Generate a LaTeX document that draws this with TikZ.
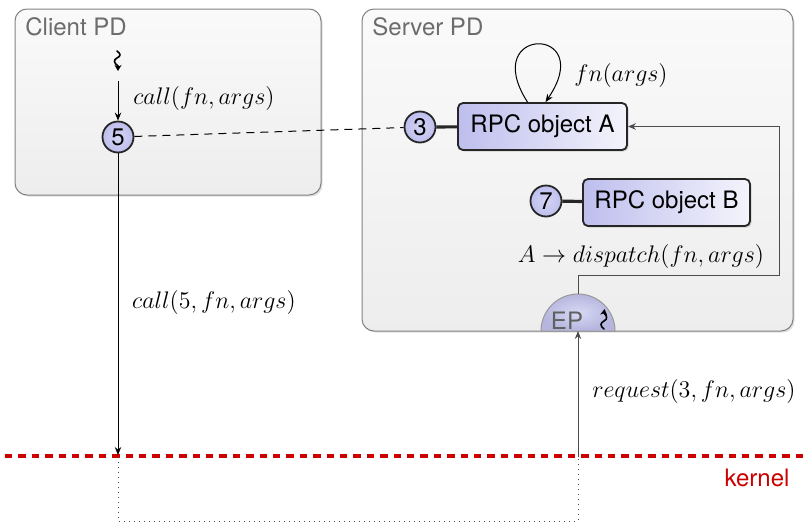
\documentclass[tikz,border=0pt]{standalone}
\usepackage{fontspec}
\setsansfont{TeX Gyre Heros}
\usetikzlibrary{arrows.meta,shadows,shadings,calc}
\definecolor{lav}{RGB}{190,190,238}
\definecolor{lavlight}{RGB}{244,244,252}
\definecolor{pdborder}{RGB}{130,130,130}
\definecolor{kred}{RGB}{204,0,0}
\begin{document}
\begin{tikzpicture}[x=0.5pt,y=-0.5pt,
  pd/.style={draw=pdborder, line width=0.5pt, rounded corners=6pt, top color=gray!4, bottom color=gray!14,
    drop shadow={opacity=0.25, shadow xshift=0.8pt, shadow yshift=-0.8pt}},
  pdlabel/.style={anchor=west, inner sep=0pt, text=gray!85!black, font=\sffamily\fontsize{12}{14}\selectfont},
  circ/.style={circle, draw=black!85, line width=0.9pt, inner sep=0pt, minimum size=15.5pt,
    inner color=lav!65, outer color=lav, font=\sffamily\fontsize{12}{14}\selectfont},
  objbox/.style={draw=black!85, line width=0.9pt, rounded corners=2.5pt, left color=lav, right color=lavlight,
    minimum height=23.5pt, font=\sffamily\fontsize{12}{14}\selectfont,
    drop shadow={opacity=0.3, shadow xshift=0.8pt, shadow yshift=-0.8pt}},
  mlabel/.style={font=\fontsize{12.8}{15}\selectfont, inner sep=0pt},
  arr/.style={line width=0.5pt, -{Stealth[length=4pt,width=3.2pt]}},
  squig/.style={line width=0.8pt, line cap=round},
  kline/.style={draw=kred, line width=1.8pt, dash pattern=on 3.7pt off 3pt},
  bond/.style={line width=1.6pt, draw=black!85}
]
\useasboundingbox (0,0) rectangle (803,525);

% protection domains
\path[pd] (15,9) rectangle (321,195);
\path[pd] (362,9) rectangle (793,331);
\node[pdlabel] (clientlbl) at (25,27) {Client PD};
\node[pdlabel] (serverlbl) at (372,27) {Server PD};

% EP semicircle
\coordinate (ep) at (578,331);
\path[draw=gray!80, line width=0.5pt, inner color=lav!60, outer color=lav!85!gray]
  (541,331) arc[start angle=180, end angle=360, x radius=37, y radius=37] -- cycle;
\node[font=\sffamily\fontsize{12}{14}\selectfont, text=gray!75!black] (eplbl) at (567,321) {EP};
\coordinate (eptop) at (578,294);
\draw[squig, -{Stealth[length=3pt,width=3.5pt]}] (604,329) .. controls (600,326) and (600,323) .. (604,321)
  .. controls (608,319) and (607,316) .. (604,313) -- (604.5,309);

% client thread
\draw[squig, -{Stealth[length=3pt,width=3.5pt]}] (117,51) .. controls (121,54) and (121,56) .. (117,58)
  .. controls (113,60) and (114,63) .. (118,66) -- (118,71);
\coordinate (thrS) at (118,81);

% nodes
\node[circ] (c5) at (118,137) {5};
\node[circ] (c3) at (420,127) {3};
\node[objbox, minimum width=84.5pt] (A) at (542.5,126.5) {RPC object A};
\node[circ] (c7) at (546,201) {7};
\node[objbox, minimum width=83.5pt] (B) at (666.5,202.5) {RPC object B};

\draw[bond] (c3) -- (A);
\draw[bond] (c7) -- (B);

% capability link
\draw[line width=0.5pt, dash pattern=on 4pt off 3pt] (c5) -- (c3);

% call arrow
\draw[arr] (thrS) -- (c5);
\node[mlabel] (lcall) at (204,98) {$call(fn,args)$};

% self loop
\draw[arr] ([xshift=-7.5pt]A.north) .. controls (478,25) and (598,25) .. ([xshift=1.5pt]A.north);
\node[mlabel] (lfn) at (621,75) {$fn(args)$};

% dispatch
\coordinate (bend) at (779,275);
\draw[arr, draw=black!70] (eptop) |- (bend) |- (A.east);
\node[mlabel] (ldisp) at (641,256) {$A\rightarrow dispatch(fn,args)$};

% kernel
\coordinate (kl) at (5,456);
\coordinate (kr) at (803,456);
\draw[kline] (kl) -- (kr);
\node[font=\sffamily\fontsize{12}{14}\selectfont, text=kred] (klbl) at (757,478) {kernel};

\coordinate (clientK) at (118,455);
\coordinate (serverK) at (578,457);
\coordinate (dotc) at (118,521);
\draw[arr] (c5) -- (clientK);
\node[mlabel] (lcall5) at (214,302) {$call(5,fn,args)$};
\draw[arr, draw=black!70] (serverK) -- (ep);
\node[mlabel] (lreq) at (694,391) {$request(3,fn,args)$};
\draw[dotted, line width=0.5pt, draw=black!70] ([yshift=-1pt]clientK) -- (dotc) -| ([yshift=-1pt]serverK);
\end{tikzpicture}
\end{document}
